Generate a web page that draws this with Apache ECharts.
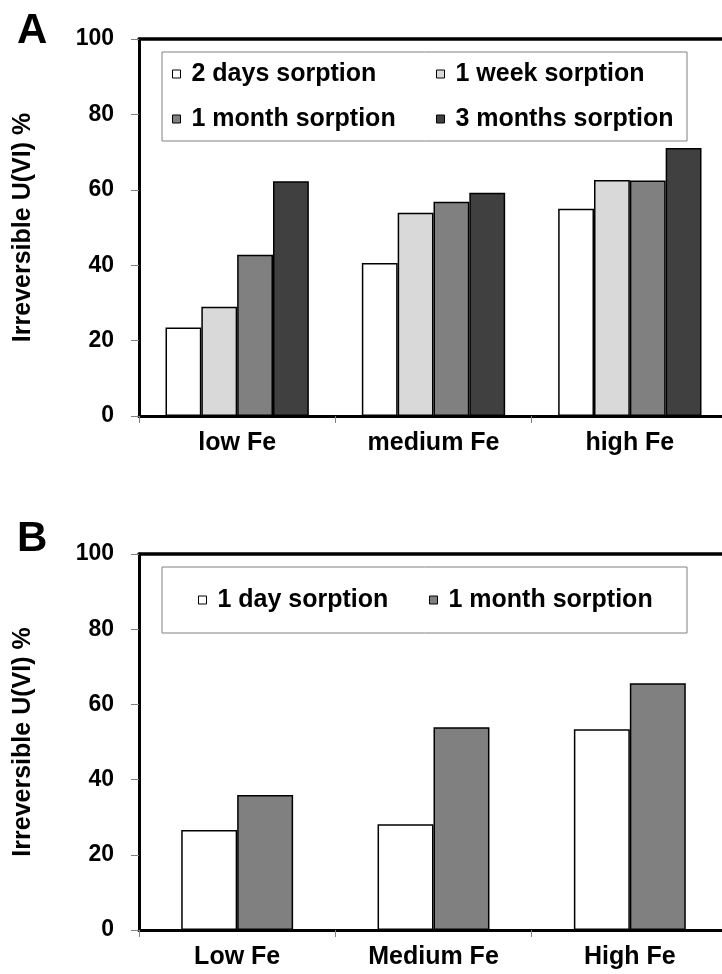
<!DOCTYPE html>
<html>
<head>
<meta charset="utf-8">
<script src="https://cdn.jsdelivr.net/npm/echarts@6/dist/echarts.min.js"></script>
<style>
html,body{margin:0;padding:0;background:#fff;overflow:hidden;width:722px;height:974px;}
#a,#b{position:absolute;left:0;width:745px;height:487px;}
#a{top:0;} #b{top:487px;}
</style>
</head>
<body>
<div id="a"></div>
<div id="b"></div>
<script>
// Panel A data
const categoriesA = ['low Fe', 'medium Fe', 'high Fe'];
const twoDaysA = [23.5, 40.6, 55.0];
const oneWeekA = [29.0, 53.9, 62.6];
const oneMonthA = [42.8, 56.8, 62.5];
const threeMonthsA = [62.3, 59.2, 71.1];
// Panel B data
const categoriesB = ['Low Fe', 'Medium Fe', 'High Fe'];
const oneDayB = [26.6, 28.1, 53.4];
const oneMonthB = [35.9, 53.9, 65.6];
// Axis
const yMin = 0, yMax = 100, yInterval = 20;
const yName = 'Irreversible U(VI) %';

const FONT = "'Liberation Sans', Arial, sans-serif";
const barBorder = { borderColor: '#000', borderWidth: 1.5 };

function baseAxes(cats) {
  return {
    xAxis: [{
      type: 'category', data: cats,
      axisLine: { lineStyle: { color: '#000', width: 3 } },
      axisTick: { show: true, length: 7, lineStyle: { color: '#808080', width: 1 } },
      axisLabel: { color: '#000', fontFamily: FONT, fontWeight: 'bold', fontSize: 25, margin: 15 }
    }, {
      type: 'category', data: cats, position: 'top',
      axisLine: { show: true, lineStyle: { color: '#000', width: 3.5 } },
      axisTick: { show: false }, axisLabel: { show: false }
    }],
    yAxis: {
      type: 'value', min: yMin, max: yMax, interval: yInterval,
      name: yName, nameLocation: 'middle', nameGap: 103, nameRotate: 90,
      nameTextStyle: { color: '#000', fontFamily: FONT, fontWeight: 'bold', fontSize: 25 },
      axisLine: { show: true, lineStyle: { color: '#000', width: 3 } },
      axisTick: { show: true, length: 8, lineStyle: { color: '#808080', width: 1 } },
      splitLine: { show: false },
      axisLabel: { color: '#000', fontFamily: FONT, fontWeight: 'bold', fontSize: 23, margin: 25 }
    }
  };
}

function legendItem(names, left, top) {
  return {
    data: names, orient: 'vertical', left: left, top: top, padding: 0,
    itemGap: 17, itemWidth: 8, itemHeight: 8, icon: 'rect',
    itemStyle: { borderColor: '#000', borderWidth: 1 },
    textStyle: { color: '#000', fontFamily: FONT, fontWeight: 'bold', fontSize: 25, lineHeight: 28, padding: [0, 0, 0, 6] },
    selectedMode: false
  };
}

// Chart A
const chartA = echarts.init(document.getElementById('a'));
const axA = baseAxes(categoriesA);
chartA.setOption({
  animation: false,
  title: { text: 'A', left: 17, top: 10, padding: 0, textStyle: { fontFamily: FONT, fontWeight: 'bold', fontSize: 42, color: '#000' } },
  grid: { left: 139, top: 39, width: 589, height: 377 },
  graphic: [{ type: 'rect', shape: { x: 162, y: 52, width: 525, height: 89 }, style: { fill: '#fff', stroke: '#808080', lineWidth: 1 }, z: 1 }],
  legend: [
    legendItem(['2 days sorption', '1 month sorption'], 172, 60),
    legendItem(['1 week sorption', '3 months sorption'], 436, 60)
  ],
  xAxis: axA.xAxis, yAxis: axA.yAxis,
  series: [
    { name: '2 days sorption', type: 'bar', data: twoDaysA, barGap: '0%', barCategoryGap: '27%', itemStyle: Object.assign({ color: '#ffffff' }, barBorder) },
    { name: '1 week sorption', type: 'bar', data: oneWeekA, itemStyle: Object.assign({ color: '#d9d9d9' }, barBorder) },
    { name: '1 month sorption', type: 'bar', data: oneMonthA, itemStyle: Object.assign({ color: '#808080' }, barBorder) },
    { name: '3 months sorption', type: 'bar', data: threeMonthsA, itemStyle: Object.assign({ color: '#404040' }, barBorder) }
  ]
});

// Chart B
const chartB = echarts.init(document.getElementById('b'));
const axB = baseAxes(categoriesB);
chartB.setOption({
  animation: false,
  title: { text: 'B', left: 17, top: 31, padding: 0, textStyle: { fontFamily: FONT, fontWeight: 'bold', fontSize: 42, color: '#000' } },
  grid: { left: 139, top: 67, width: 589, height: 376 },
  graphic: [{ type: 'rect', shape: { x: 162, y: 80, width: 525, height: 66 }, style: { fill: '#fff', stroke: '#808080', lineWidth: 1 }, z: 1 }],
  legend: [
    legendItem(['1 day sorption'], 198, 99),
    legendItem(['1 month sorption'], 429, 99)
  ],
  xAxis: axB.xAxis, yAxis: axB.yAxis,
  series: [
    { name: '1 day sorption', type: 'bar', data: oneDayB, barGap: '0%', barCategoryGap: '43%', itemStyle: Object.assign({ color: '#ffffff' }, barBorder) },
    { name: '1 month sorption', type: 'bar', data: oneMonthB, itemStyle: Object.assign({ color: '#808080' }, barBorder) }
  ]
});
</script>
</body>
</html>
